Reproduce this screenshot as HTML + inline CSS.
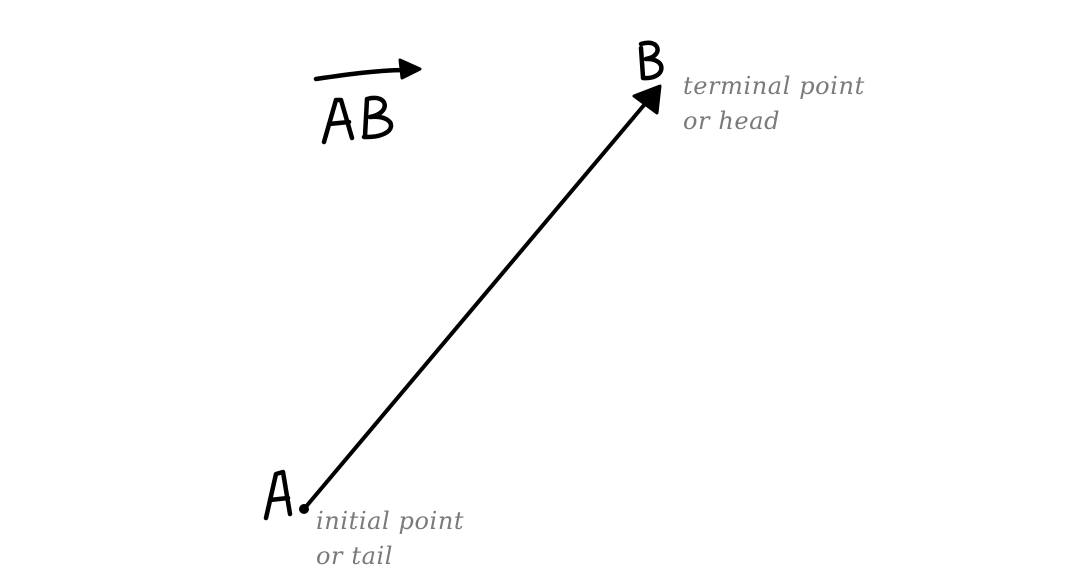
<!DOCTYPE html>
<html><head><meta charset="utf-8"><style>
html,body{margin:0;padding:0;background:#fff;width:1068px;height:583px;overflow:hidden}
.lbl{position:absolute;font-family:"DejaVu Serif",serif;font-style:italic;color:#7a7a7a;font-size:24px;line-height:35px;white-space:nowrap;letter-spacing:0.6px}
</style></head><body>
<svg width="1068" height="583" style="position:absolute;left:0;top:0" fill="none" stroke="#000" stroke-linecap="round" stroke-linejoin="round">
<line x1="304" y1="509" x2="650" y2="98" stroke-width="4"/>
<polygon points="660,86 657,113 634,96" fill="#000" stroke="#000" stroke-width="3"/>
<circle cx="304" cy="509" r="5" fill="#000" stroke="none"/>
<path d="M266,518 L276,474 L283,472 L290,514 M270,500 L288,498" stroke-width="4.5"/>
<path d="M641,48 L643,77 M641,44 C660,38 664,56 646,59 C668,58 666,80 643,78" stroke-width="4.5"/>
<path d="M316,79 C350,74 380,70 405,70" stroke-width="4.5"/>
<polygon points="400,60 420,69 402,78" fill="#000" stroke="#000" stroke-width="3"/>
<path d="M324,142 L336,100 L341,100 L352,138 M329,124 L349,122" stroke-width="4.5"/>
<path d="M365,136 L367,99 C388,93 392,113 370,117 C398,114 400,138 364,137" stroke-width="4.5"/>
</svg>
<div class="lbl" style="left:683px;top:69px">terminal point<br>or head</div>
<div class="lbl" style="left:316px;top:504px">initial point<br>or tail</div>
</body></html>
